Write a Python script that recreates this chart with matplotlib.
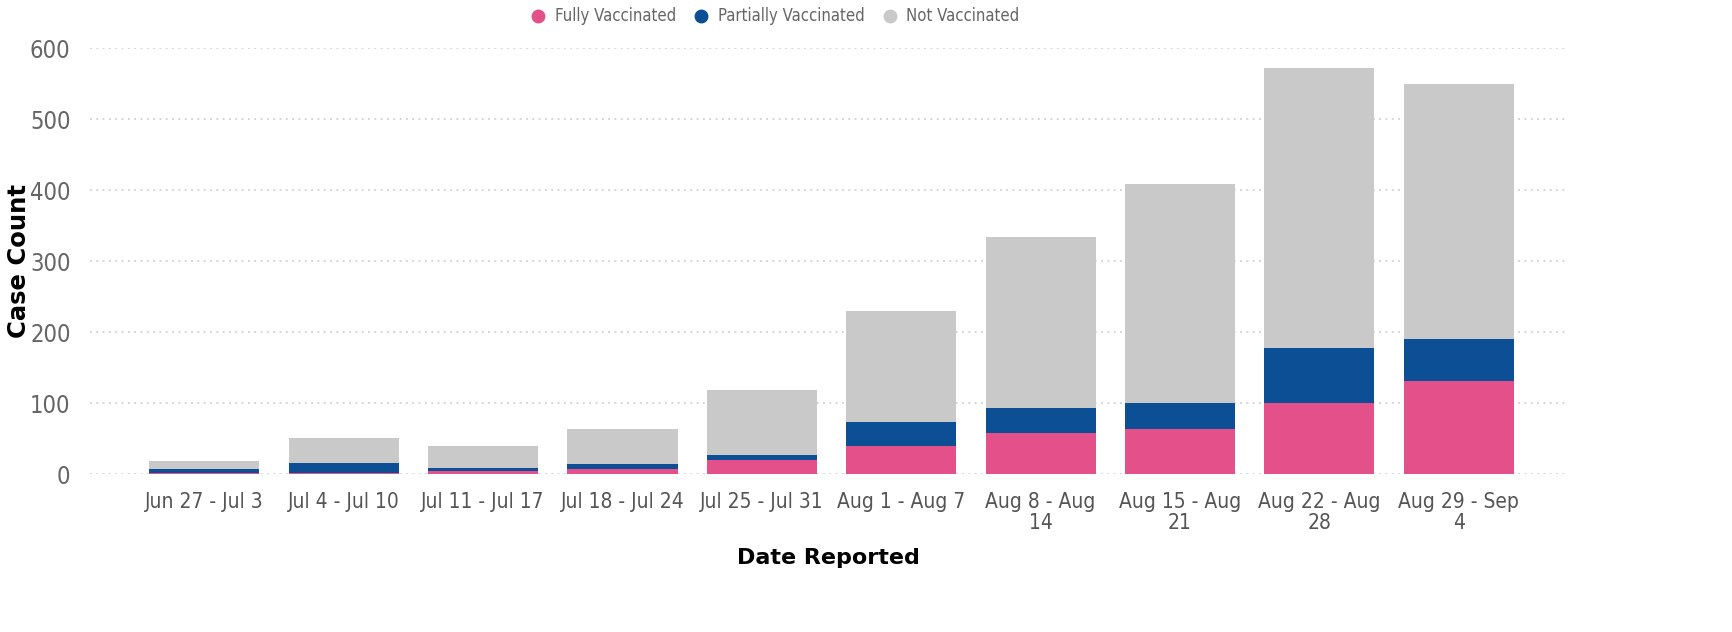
import matplotlib.pyplot as plt
import numpy as np

weeks = ["Jun 27 - Jul 3", "Jul 4 - Jul 10", "Jul 11 - Jul 17", "Jul 18 - Jul 24",
         "Jul 25 - Jul 31", "Aug 1 - Aug 7", "Aug 8 - Aug\n14", "Aug 15 - Aug\n21",
         "Aug 22 - Aug\n28", "Aug 29 - Sep\n4"]
fully = [1, 1, 4, 7, 20, 39, 58, 63, 100, 131]
partially = [6, 15, 5, 7, 7, 34, 35, 37, 77, 59]
not_vacc = [11, 35, 30, 49, 91, 157, 241, 308, 395, 359]

colors = {"Fully Vaccinated": "#E4508A",
          "Partially Vaccinated": "#0D4F95",
          "Not Vaccinated": "#C9C9C9"}

fig = plt.figure(figsize=(17.32, 6.32), dpi=100)
ax = fig.add_axes([0.052, 0.25, 0.853, 0.674])

x = np.arange(len(weeks))
bottom = np.zeros(len(weeks))
for name, vals in zip(colors, [fully, partially, not_vacc]):
    ax.bar(x, vals, bottom=bottom, width=0.79, color=colors[name], label=name, zorder=2)
    bottom += np.array(vals)

ax.set_xlim(-0.82, len(weeks) - 0.22)
ax.set_ylim(0, 600)
ax.set_yticks(range(0, 601, 100))
ax.yaxis.grid(True, linestyle=(0, (1, 2.5)), color="#d0d0d0", linewidth=1.3, zorder=0)
for s in ax.spines.values():
    s.set_visible(False)
ax.tick_params(axis="both", length=0, colors="#666666")
ax.tick_params(axis="y", labelsize=17, pad=14)
for t in ax.get_yticklabels():
    t.set_fontstretch("condensed")
ax.set_xticks(x)
ax.set_xticklabels(weeks, fontsize=15, fontstretch="condensed",
                   color="#555555", linespacing=1.05)
ax.tick_params(axis="x", pad=13)

ax.set_ylabel("Case Count", fontsize=17.5, fontweight="bold")
ax.yaxis.set_label_coords(-0.04, 0.5)
ax.set_xlabel("Date Reported", fontsize=16, fontweight="bold", labelpad=11)

handles = [plt.Line2D([], [], marker="o", linestyle="", color=c, markersize=9) for c in colors.values()]
leg = fig.legend(handles, list(colors), loc="upper center", bbox_to_anchor=(0.445, 1.012), ncol=3,
                 frameon=False, handletextpad=0.0, columnspacing=0.5,
                 prop={"size": 12, "stretch": "condensed"})
for t in leg.get_texts():
    t.set_color("#666666")

fig.savefig("out.png", dpi=100)
